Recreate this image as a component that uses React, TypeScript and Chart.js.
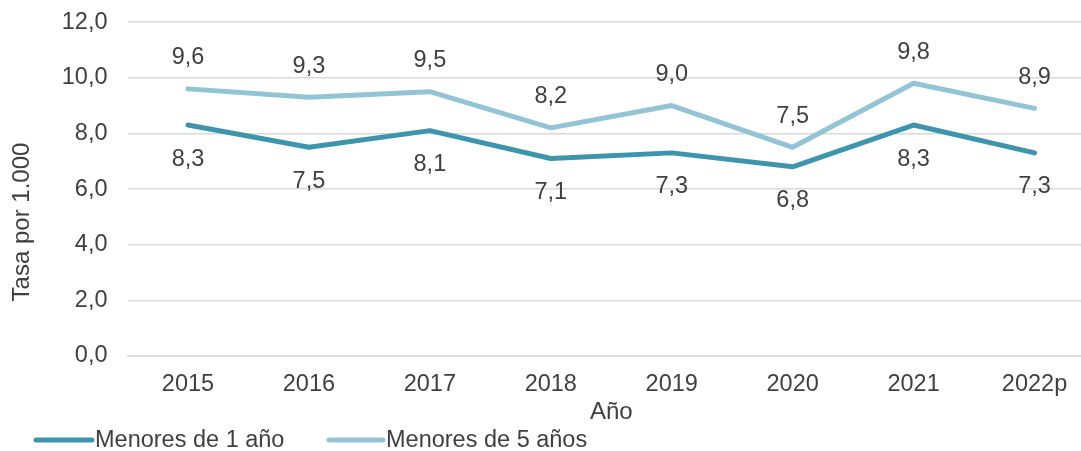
import React, { useEffect, useRef } from "react";
import { Chart, registerables } from "chart.js";

Chart.register(...registerables);

const categories = ["2015", "2016", "2017", "2018", "2019", "2020", "2021", "2022p"];
const menores1 = [8.3, 7.5, 8.1, 7.1, 7.3, 6.8, 8.3, 7.3];
const menores5 = [9.6, 9.3, 9.5, 8.2, 9.0, 7.5, 9.8, 8.9];
const seriesNames = ["Menores de 1 año", "Menores de 5 años"];
const yTicks = [0, 2, 4, 6, 8, 10, 12];
const yTitle = "Tasa por 1.000";

const DARK = "#3d95ad";
const LIGHT = "#93c4d6";
const TEXT = "#404040";
const FONT = "'Liberation Sans', Arial, sans-serif";
const FS = 23.5;
const FT = 24;
const SHIFT = 12;

const fmt = (v: number) => v.toFixed(1).replace(".", ",");

const labelPlugin = {
  id: "labels",
  afterDatasetsDraw(chart: any) {
    const ctx = chart.ctx;
    ctx.save();
    ctx.font = `${FS}px ${FONT}`;
    ctx.fillStyle = TEXT;
    ctx.textAlign = "center";
    ctx.textBaseline = "middle";
    chart.data.datasets.forEach((ds: any, i: number) => {
      const meta = chart.getDatasetMeta(i);
      meta.data.forEach((pt: any, j: number) => {
        const v = ds.data[j];
        const dy = i === 0 ? 34 : -31;
        ctx.fillText(fmt(v), pt.x, pt.y + dy);
      });
    });
    // y title
    ctx.save();
    ctx.font = `${FT}px ${FONT}`;
    ctx.translate(22, 222 + SHIFT);
    ctx.rotate(-Math.PI / 2);
    ctx.fillText(yTitle, 0, 0);
    ctx.restore();
    // legend
    const ly = 440 + SHIFT;
    const items = [
      { x: 36, w: 56, color: DARK, text: seriesNames[0] },
      { x: 329, w: 54, color: LIGHT, text: seriesNames[1] },
    ];
    ctx.font = `23.5px ${FONT}`;
    ctx.textAlign = "left";
    items.forEach((it) => {
      ctx.strokeStyle = it.color;
      ctx.lineWidth = 5;
      ctx.lineCap = "round";
      ctx.beginPath();
      ctx.moveTo(it.x, ly);
      ctx.lineTo(it.x + it.w, ly);
      ctx.stroke();
      ctx.fillText(it.text, it.x + it.w + 3, ly + 1);
    });
    ctx.restore();
  },
};

export default function App() {
  const ref = useRef<HTMLCanvasElement>(null);
  useEffect(() => {
    document.body.style.margin = "0";
    const chart = new Chart(ref.current!, {
      type: "line",
      data: {
        labels: categories,
        datasets: [
          {
            label: seriesNames[0],
            data: menores1,
            borderColor: DARK,
            backgroundColor: DARK,
            borderWidth: 5,
            pointRadius: 0,
            tension: 0,
            borderCapStyle: "round",
            borderJoinStyle: "round",
          },
          {
            label: seriesNames[1],
            data: menores5,
            borderColor: LIGHT,
            backgroundColor: LIGHT,
            borderWidth: 5,
            pointRadius: 0,
            tension: 0,
            borderCapStyle: "round",
            borderJoinStyle: "round",
          },
        ],
      },
      options: {
        animation: false,
        responsive: false,
        maintainAspectRatio: false,
        layout: { padding: { top: -6, left: 11, right: 0, bottom: 24 } },
        plugins: {
          legend: { display: false },
          tooltip: { enabled: false },
        },
        scales: {
          x: {
            offset: true,
            grid: { display: false, drawTicks: false },
            border: { display: true, color: "#d9d9d9", width: 1.5 },
            ticks: { color: TEXT, font: { family: FONT, size: FS }, padding: 14 },
            title: {
              display: true,
              text: "Año",
              color: TEXT,
              font: { family: FONT, size: FT },
              padding: { top: -14, bottom: 0 },
            },
          },
          y: {
            min: 0,
            max: 12,
            afterBuildTicks: (axis: any) => {
              axis.ticks = yTicks.map((v) => ({ value: v }));
            },
            grid: { color: "#d9d9d9", lineWidth: 1.5, drawTicks: false },
            border: { display: false },
            ticks: {
              color: TEXT,
              font: { family: FONT, size: FS },
              padding: 20,
              callback: (v: any) => fmt(Number(v)),
            },
            title: {
              display: true,
              text: yTitle,
              color: "rgba(0,0,0,0)",
              font: { family: FONT, size: FT },
              padding: { top: 0, bottom: 2 },
            },
          },
        },
      },
      plugins: [labelPlugin],
    });
    return () => chart.destroy();
  }, []);
  return (
    <div style={{ position: "fixed", left: 0, top: 0, width: 1081, height: 451, overflow: "hidden", background: "#fff" }}>
      <canvas
        ref={ref}
        width={1095}
        height={451 + SHIFT}
        style={{ width: 1095, height: 451 + SHIFT, display: "block", marginTop: -SHIFT }}
      />
    </div>
  );
}
